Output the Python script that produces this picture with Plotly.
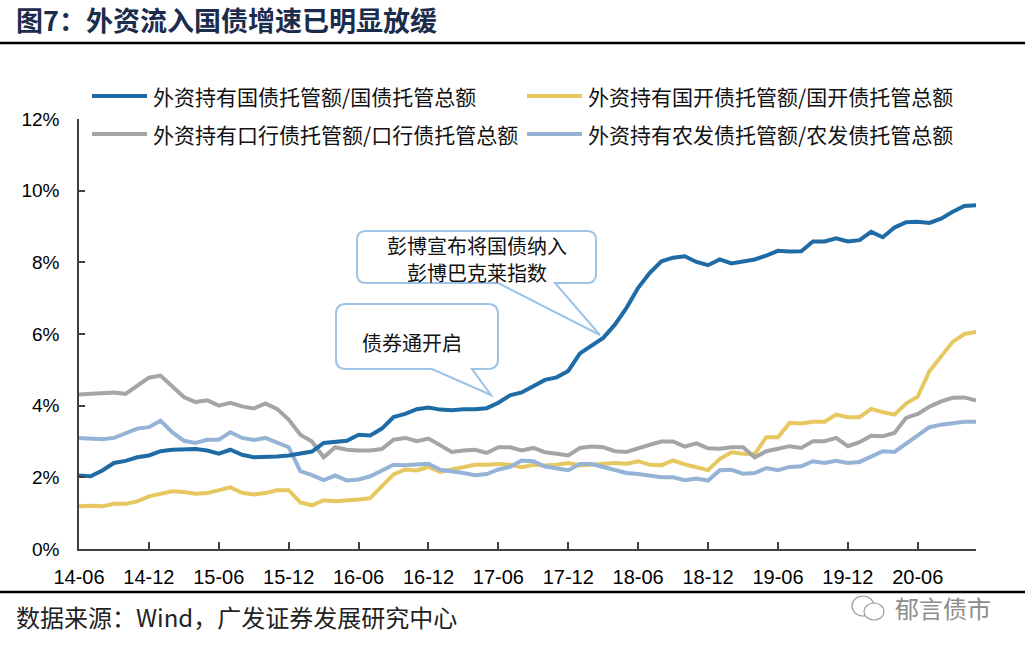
import plotly.graph_objects as go
import pandas as pd

# ---------------- data ----------------
months = list(pd.date_range("2014-06-01", periods=78, freq="MS").strftime("%y-%m"))

series_names = [
    "外资持有国债托管额/国债托管总额",
    "外资持有国开债托管额/国开债托管总额",
    "外资持有口行债托管额/口行债托管总额",
    "外资持有农发债托管额/农发债托管总额",
]

gz = [2.05, 2.03, 2.19, 2.40, 2.46, 2.56, 2.61, 2.73, 2.77, 2.77, 2.79, 2.75, 2.66, 2.77, 2.63, 2.56,
      2.56, 2.58, 2.61, 2.66, 2.72, 2.96, 2.99, 3.02, 3.19, 3.17, 3.36, 3.68, 3.77, 3.90, 3.95, 3.89,
      3.87, 3.90, 3.90, 3.93, 4.08, 4.29, 4.37, 4.54, 4.72, 4.79, 4.97, 5.46, 5.66, 5.89, 6.26, 6.73,
      7.29, 7.71, 8.03, 8.13, 8.17, 8.01, 7.92, 8.08, 7.97, 8.02, 8.08, 8.19, 8.32, 8.30, 8.31, 8.58,
      8.58, 8.67, 8.58, 8.62, 8.85, 8.70, 8.97, 9.12, 9.13, 9.10, 9.22, 9.41, 9.57, 9.59]

gk = [1.19, 1.21, 1.19, 1.26, 1.26, 1.33, 1.47, 1.54, 1.61, 1.59, 1.54, 1.56, 1.64, 1.72, 1.57, 1.52,
      1.56, 1.64, 1.64, 1.30, 1.22, 1.36, 1.33, 1.35, 1.38, 1.42, 1.75, 2.08, 2.22, 2.19, 2.29, 2.15,
      2.22, 2.29, 2.35, 2.35, 2.37, 2.35, 2.28, 2.35, 2.33, 2.35, 2.40, 2.33, 2.35, 2.38, 2.40, 2.38,
      2.45, 2.35, 2.34, 2.47, 2.36, 2.28, 2.20, 2.51, 2.70, 2.66, 2.65, 3.12, 3.12, 3.52, 3.50, 3.55,
      3.55, 3.75, 3.68, 3.68, 3.91, 3.82, 3.75, 4.06, 4.25, 4.96, 5.36, 5.78, 6.00, 6.06]

kh = [4.31, 4.33, 4.33, 4.37, 4.33, 4.54, 4.78, 4.84, 4.54, 4.24, 4.10, 4.15, 4.00, 4.08, 3.98, 3.92,
      4.06, 3.91, 3.61, 3.19, 3.00, 2.56, 2.84, 2.77, 2.75, 2.75, 2.79, 3.05, 3.10, 3.01, 3.08, 2.89,
      2.71, 2.75, 2.77, 2.68, 2.84, 2.84, 2.75, 2.82, 2.70, 2.66, 2.61, 2.82, 2.86, 2.84, 2.73, 2.71,
      2.82, 2.91, 3.00, 3.00, 2.86, 2.95, 2.81, 2.80, 2.84, 2.84, 2.56, 2.73, 2.80, 2.87, 2.82, 3.01,
      3.01, 3.10, 2.87, 2.98, 3.16, 3.15, 3.24, 3.66, 3.77, 3.97, 4.12, 4.22, 4.23, 4.14]

nf = [3.10, 3.08, 3.06, 3.10, 3.22, 3.36, 3.40, 3.58, 3.26, 3.02, 2.96, 3.05, 3.05, 3.26, 3.10, 3.04,
      3.10, 2.98, 2.84, 2.17, 2.06, 1.92, 2.05, 1.91, 1.94, 2.03, 2.19, 2.35, 2.34, 2.35, 2.38, 2.21,
      2.17, 2.12, 2.06, 2.09, 2.22, 2.29, 2.47, 2.45, 2.30, 2.26, 2.20, 2.37, 2.37, 2.29, 2.20, 2.12,
      2.09, 2.05, 2.00, 2.00, 1.92, 1.97, 1.91, 2.20, 2.21, 2.10, 2.12, 2.26, 2.20, 2.29, 2.31, 2.45,
      2.40, 2.46, 2.40, 2.43, 2.59, 2.73, 2.71, 2.93, 3.16, 3.40, 3.47, 3.50, 3.55, 3.55]

tick_months = months[::6]
y_ticks = [0, 2, 4, 6, 8, 10, 12]
y_tick_text = ["0%", "2%", "4%", "6%", "8%", "10%", "12%"]

title_text = "图7：外资流入国债增速已明显放缓"
source_text = "数据来源：Wind，广发证券发展研究中心"
watermark_text = "郁言债市"
callout1_lines = ["彭博宣布将国债纳入", "彭博巴克莱指数"]
callout2_text = "债券通开启"

# ---------------- styles / layout ----------------
colors = ["#1F6BA5", "#E6C760", "#A5A5A5", "#95B3D7"]
W, H = 1025, 653
L, R, T, B = 79, 976, 119, 549   # plot area in window pixels
CJK = "Noto Sans CJK SC"
LAT = "Arial, Liberation Sans, sans-serif"


def px(x):
    return (x - L) / (R - L)


def py(y):
    return (B - y) / (B - T)


fig = go.Figure()
data = [gz, gk, kh, nf]
for k in [1, 2, 3, 0]:
    fig.add_trace(go.Scatter(x=months, y=data[k], mode="lines", name=series_names[k],
                             line=dict(color=colors[k], width=4), showlegend=False, hoverinfo="skip"))

shapes = []
annotations = []

# legend (manual, 2x2)
leg_pos = [(92, 96), (527, 96), (92, 134), (527, 134)]
for k, (lx, ly) in enumerate(leg_pos):
    shapes.append(dict(type="line", xref="paper", yref="paper", x0=px(lx), x1=px(lx + 55),
                       y0=py(ly), y1=py(ly), line=dict(color=colors[k], width=4)))
    annotations.append(dict(xref="paper", yref="paper", x=px(lx + 59), y=py(ly), text=series_names[k],
                            showarrow=False, xanchor="left", yanchor="middle",
                            font=dict(family=CJK, size=21, color="#111111")))


def callout(l, r, t, b, rad, tail_a, tip, tail_b):
    return (f"M {px(l + rad)},{py(t)} L {px(r - rad)},{py(t)} Q {px(r)},{py(t)} {px(r)},{py(t + rad)} "
            f"L {px(r)},{py(b - rad)} Q {px(r)},{py(b)} {px(r - rad)},{py(b)} "
            f"L {px(tail_a)},{py(b)} L {px(tip[0])},{py(tip[1])} L {px(tail_b)},{py(b)} "
            f"L {px(l + rad)},{py(b)} Q {px(l)},{py(b)} {px(l)},{py(b - rad)} "
            f"L {px(l)},{py(t + rad)} Q {px(l)},{py(t)} {px(l + rad)},{py(t)} Z")


shapes.append(dict(type="path", xref="paper", yref="paper",
                   path=callout(357, 596, 231, 283, 9, 555, (600, 335), 498),
                   line=dict(color="#9DC3E6", width=2), fillcolor="white", layer="above"))
shapes.append(dict(type="path", xref="paper", yref="paper",
                   path=callout(336, 498, 304, 369, 10, 472, (491, 395), 432),
                   line=dict(color="#9DC3E6", width=2), fillcolor="white", layer="above"))
for txt, cx, cy in [(callout1_lines[0], 477, 245), (callout1_lines[1], 477, 272), (callout2_text, 412, 342)]:
    annotations.append(dict(xref="paper", yref="paper", x=px(cx), y=py(cy), text=txt,
                            showarrow=False, xanchor="center", yanchor="middle",
                            font=dict(family=CJK, size=20, color="#111111")))

# title, rules, source, watermark
annotations.append(dict(xref="paper", yref="paper", x=px(14), y=py(19), text="<b>" + title_text + "</b>",
                        showarrow=False, xanchor="left", yanchor="middle",
                        font=dict(family=CJK, size=27, color="#1C2C4C")))
shapes.append(dict(type="line", xref="paper", yref="paper", x0=px(0), x1=px(W), y0=py(43), y1=py(43),
                   line=dict(color="#000000", width=2.5)))
shapes.append(dict(type="line", xref="paper", yref="paper", x0=px(0), x1=px(W), y0=py(592), y1=py(592),
                   line=dict(color="#000000", width=2.5)))
annotations.append(dict(xref="paper", yref="paper", x=px(14), y=py(616), text=source_text,
                        showarrow=False, xanchor="left", yanchor="middle",
                        font=dict(family=CJK, size=24, color="#222222")))
annotations.append(dict(xref="paper", yref="paper", x=px(993), y=py(607), text=watermark_text,
                        showarrow=False, xanchor="right", yanchor="middle",
                        font=dict(family=CJK, size=24, color="#8C8C8C")))
shapes.append(dict(type="circle", xref="paper", yref="paper", x0=px(852), x1=px(874), y0=py(596), y1=py(616),
                   line=dict(color="#9A9A9A", width=1.2)))
shapes.append(dict(type="circle", xref="paper", yref="paper", x0=px(864), x1=px(884), y0=py(603), y1=py(620),
                   line=dict(color="#9A9A9A", width=1.2), fillcolor="white"))

fig.update_layout(
    width=W, height=H,
    margin=dict(l=L, r=W - R, t=T, b=H - B, pad=0),
    paper_bgcolor="white", plot_bgcolor="white",
    shapes=shapes, annotations=annotations,
    showlegend=False, hovermode=False,
)
fig.update_xaxes(type="category", range=[0, len(months) - 1], tickmode="array",
                 tickvals=tick_months, ticktext=tick_months,
                 ticks="inside", ticklen=7, tickcolor="#404040", tickwidth=1.5,
                 showline=True, linecolor="#404040", linewidth=1.5, showgrid=False,
                 ticklabelstandoff=9, tickfont=dict(family=LAT, size=20, color="#000000"))
fig.update_yaxes(range=[0, 12], tickmode="array", tickvals=y_ticks, ticktext=y_tick_text,
                 ticks="inside", ticklen=6, tickcolor="#404040", tickwidth=1.5,
                 showline=True, linecolor="#404040", linewidth=1.5, showgrid=False, zeroline=False,
                 ticklabelstandoff=14, tickfont=dict(family=LAT, size=19, color="#000000"))

fig.write_html("out.html", config={"displayModeBar": False},
               post_script="document.body.style.margin='0px';document.body.style.overflow='hidden';")
